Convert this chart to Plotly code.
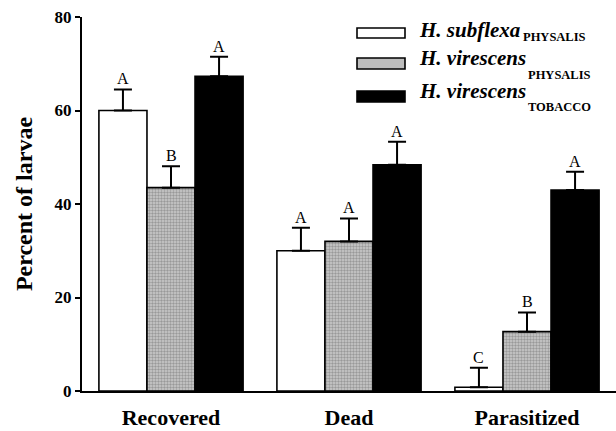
import plotly.graph_objects as go

categories = ["Recovered", "Dead", "Parasitized"]
series_names = ["H. subflexa", "H. virescens", "H. virescens"]
series_subs = ["PHYSALIS", "PHYSALIS", "TOBACCO"]
subflexa_physalis = [60.0, 30.0, 0.8]
subflexa_physalis_err = [4.5, 4.9, 4.2]
virescens_physalis = [43.5, 32.0, 12.7]
virescens_physalis_err = [4.6, 4.9, 4.1]
virescens_tobacco = [67.3, 48.4, 43.0]
virescens_tobacco_err = [4.2, 4.9, 3.9]
letters_subflexa = ["A", "A", "C"]
letters_vir_phys = ["B", "A", "B"]
letters_vir_tob = ["A", "A", "A"]
y_ticks = [0, 20, 40, 60, 80]

FONT = "Liberation Serif"
values = [subflexa_physalis, virescens_physalis, virescens_tobacco]
errors = [subflexa_physalis_err, virescens_physalis_err, virescens_tobacco_err]
letters = [letters_subflexa, letters_vir_phys, letters_vir_tob]
bw = 0.27
offsets = [-bw, 0.0, bw]

fills = [
    dict(color="white", line=dict(color="black", width=1.6)),
    dict(color="#bdbdbd", line=dict(color="black", width=1.6),
         pattern=dict(shape=".", fgcolor="#666666", bgcolor="#cccccc", size=3, solidity=0.5)),
    dict(color="black", line=dict(color="black", width=1.6)),
]

fig = go.Figure()
for i in range(3):
    xs = [k + offsets[i] for k in range(len(categories))]
    fig.add_trace(go.Bar(
        x=xs, y=values[i], width=bw, marker=fills[i], showlegend=False,
        error_y=dict(type="data", array=errors[i], arrayminus=[0] * 3, symmetric=False,
                     color="black", thickness=2, width=9),
    ))
    for k in range(len(categories)):
        fig.add_annotation(x=xs[k], y=values[i][k] + errors[i][k], text=letters[i][k],
                           showarrow=False, yanchor="bottom", yshift=0,
                           font=dict(family=FONT, size=16, color="black"))

# custom legend
X0, W = 82, 534
Y0, H = 391, 374
def px(x):
    return (x - X0) / W
def py(y):
    return (Y0 - y) / H

sw = [(28, 38), (58, 69), (91, 102)]
for i, (t, b) in enumerate(sw):
    f = fills[i]
    fig.add_shape(type="rect", xref="paper", yref="paper", x0=px(357), x1=px(405),
                  y0=py(b), y1=py(t), line=dict(color="black", width=1.6),
                  fillcolor=f["color"])

name_pos = [(417, 29.5), (417, 58), (417, 91)]
sub_pos = [(521, 37), (526, 75), (526, 107.5)]
for i in range(3):
    fig.add_annotation(xref="paper", yref="paper", x=px(name_pos[i][0]), y=py(name_pos[i][1]),
                       xanchor="left", yanchor="middle", showarrow=False,
                       text="<b><i>" + series_names[i] + "</i></b>",
                       font=dict(family=FONT, size=21, color="black"))
    fig.add_annotation(xref="paper", yref="paper", x=px(sub_pos[i][0]), y=py(sub_pos[i][1]),
                       xanchor="left", yanchor="middle", showarrow=False,
                       text="<b>" + series_subs[i] + "</b>",
                       font=dict(family=FONT, size=12.5, color="black"))

fig.update_layout(
    width=616, height=431,
    margin=dict(l=82, r=0, t=17, b=40),
    plot_bgcolor="white", paper_bgcolor="white",
    barmode="overlay",
    font=dict(family=FONT, color="black"),
    xaxis=dict(range=[-0.5, 2.5], tickvals=[0, 1, 2], ticktext=["<b>%s</b>" % c for c in categories],
               showline=True, linecolor="black", linewidth=2, ticks="", showgrid=False,
               zeroline=False, tickfont=dict(family=FONT, size=22, color="black"),
               ticklabelstandoff=6, automargin=False),
    yaxis=dict(range=[0, 80], tickvals=y_ticks, ticktext=["<b>%d</b>" % v for v in y_ticks],
               showline=True, linecolor="black", linewidth=2, ticks="outside", ticklen=5,
               tickwidth=1.5, tickcolor="black", showgrid=False, zeroline=False, automargin=False,
               tickfont=dict(family=FONT, size=17, color="black"),
               title=dict(text="<b>Percent of larvae</b>", font=dict(family=FONT, size=24, color="black"),
                          standoff=15)),
)

fig.write_html("out.html")
